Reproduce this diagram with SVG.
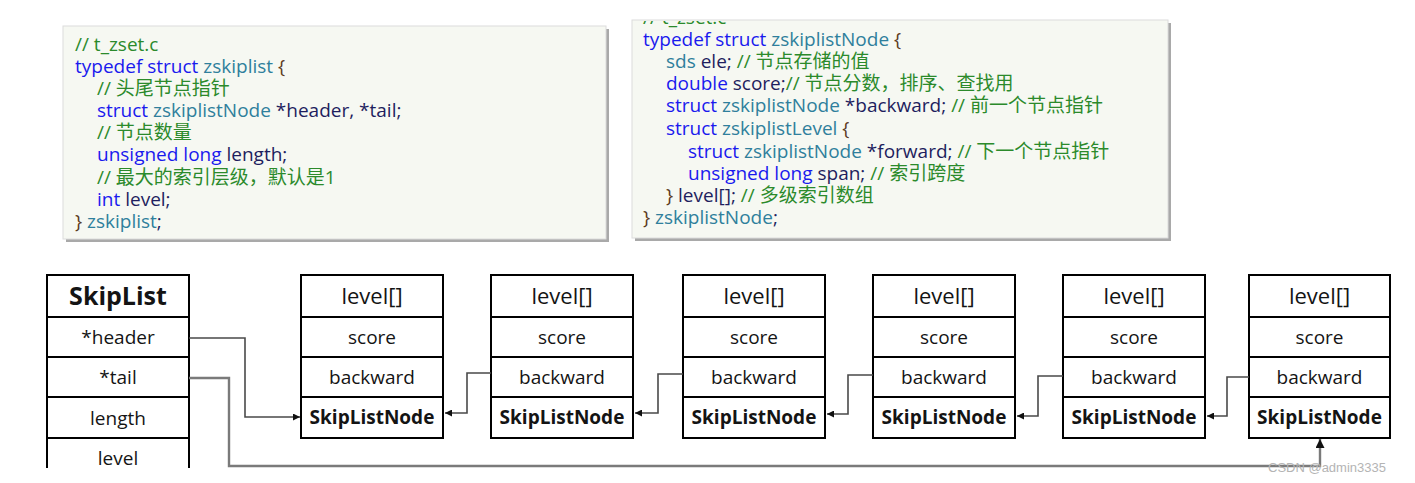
<svg xmlns="http://www.w3.org/2000/svg" width="1415" height="483" viewBox="0 0 1415 483">
<style>
.code{font-family:"Open Sans","Noto Sans CJK SC",sans-serif;font-size:19px;white-space:pre}
.kw{fill:#1a1aee}.ty{fill:#2f7f9c}.id{fill:#1e1e5e}.cm{fill:#2b8a2b}.pn{fill:#5c3b1e}
.panel{fill:#f6f8f2;stroke:#dcdcdc;stroke-width:1}
.shadow{fill:#a9a9a9}
.box{fill:#fff;stroke:#000;stroke-width:2}
.sep{stroke:#000;stroke-width:2}
.t{font-family:"Open Sans","Noto Sans",sans-serif;fill:#141414;text-anchor:middle}
.lv{font-size:22px}.sc{font-size:19px}.bw{font-size:19px}.nm{font-size:19px;font-weight:bold}
.conn{fill:none;stroke:#4a4a4a;stroke-width:1.6}
.tailc{fill:none;stroke:#7a7a7a;stroke-width:2.4}
</style>
<defs>
<marker id="arr" viewBox="0 0 10 10" refX="10" refY="5" markerWidth="7" markerHeight="7" markerUnits="userSpaceOnUse" orient="auto">
<path d="M0,0 L10,5 L0,10 z" fill="#111"/>
</marker>
<marker id="arr2" viewBox="0 0 10 10" refX="10" refY="5" markerWidth="9" markerHeight="9" markerUnits="userSpaceOnUse" orient="auto">
<path d="M0,0 L10,5 L0,10 z" fill="#111"/>
</marker>
<clipPath id="clip2"><rect x="632" y="21" width="540" height="220"/></clipPath>
</defs>
<rect width="1415" height="483" fill="#fff"/>

<g id="panel-zskiplist">
<rect class="shadow" x="66" y="29" width="543" height="213"/>
<rect class="panel" x="63" y="26" width="543" height="213"/>
<text class="code" x="75" y="51"><tspan class="cm">// t_zset.c</tspan></text>
<text class="code" x="75" y="73"><tspan class="kw">typedef struct </tspan><tspan class="ty">zskiplist </tspan><tspan class="pn">{</tspan></text>
<text class="code" x="97" y="95"><tspan class="cm">// 头尾节点指针</tspan></text>
<text class="code" x="97" y="117"><tspan class="kw">struct </tspan><tspan class="ty">zskiplistNode </tspan><tspan class="id">*header, *tail;</tspan></text>
<text class="code" x="97" y="139"><tspan class="cm">// 节点数量</tspan></text>
<text class="code" x="97" y="161"><tspan class="kw">unsigned long </tspan><tspan class="id">length;</tspan></text>
<text class="code" x="97" y="184"><tspan class="cm">// 最大的索引层级，默认是1</tspan></text>
<text class="code" x="97" y="206"><tspan class="kw">int </tspan><tspan class="id">level;</tspan></text>
<text class="code" x="75" y="228"><tspan class="pn">} </tspan><tspan class="ty">zskiplist</tspan><tspan class="id">;</tspan></text>
</g>

<g id="panel-zskiplistNode">
<rect class="shadow" x="635" y="23" width="536" height="218"/>
<rect class="panel" x="632" y="20" width="536" height="218"/>
<text class="code" x="643" y="24" clip-path="url(#clip2)"><tspan class="cm">// t_zset.c</tspan></text>
<text class="code" x="643" y="46"><tspan class="kw">typedef struct </tspan><tspan class="ty">zskiplistNode </tspan><tspan class="pn">{</tspan></text>
<text class="code" x="666" y="68"><tspan class="ty">sds </tspan><tspan class="id">ele; </tspan><tspan class="cm">// 节点存储的值</tspan></text>
<text class="code" x="666" y="90"><tspan class="kw">double </tspan><tspan class="id">score;</tspan><tspan class="cm">// 节点分数，排序、查找用</tspan></text>
<text class="code" x="666" y="112"><tspan class="kw">struct </tspan><tspan class="ty">zskiplistNode </tspan><tspan class="id">*backward; </tspan><tspan class="cm">// 前一个节点指针</tspan></text>
<text class="code" x="666" y="135"><tspan class="kw">struct </tspan><tspan class="ty">zskiplistLevel </tspan><tspan class="pn">{</tspan></text>
<text class="code" x="688" y="158"><tspan class="kw">struct </tspan><tspan class="ty">zskiplistNode </tspan><tspan class="id">*forward; </tspan><tspan class="cm">// 下一个节点指针</tspan></text>
<text class="code" x="688" y="180"><tspan class="kw">unsigned long </tspan><tspan class="id">span; </tspan><tspan class="cm">// 索引跨度</tspan></text>
<text class="code" x="666" y="202"><tspan class="pn">} </tspan><tspan class="id">level[]; </tspan><tspan class="cm">// 多级索引数组</tspan></text>
<text class="code" x="643" y="224"><tspan class="pn">} </tspan><tspan class="ty">zskiplistNode</tspan><tspan class="id">;</tspan></text>
</g>

<g id="skiplist">
<path class="sep" d="M47,468 V275 H189 V468 M47,317 H189 M47,357 H189 M47,397 H189 M47,438 H189" fill="none"/>
<text class="t" x="118" y="305" style="font-size:25px;font-weight:bold">SkipList</text>
<text class="t bw" x="118" y="344">*header</text>
<text class="t bw" x="118" y="384">*tail</text>
<text class="t bw" x="118" y="425">length</text>
<text class="t bw" x="118" y="465">level</text>
</g>

<g id="node1">
<rect class="box" x="301" y="275" width="142" height="163"/>
<path class="sep" d="M301,317 H443 M301,357 H443 M301,397 H443"/>
<text class="t lv" x="372" y="304">level[]</text>
<text class="t sc" x="372" y="344">score</text>
<text class="t bw" x="372" y="384">backward</text>
<text class="t nm" x="372" y="424">SkipListNode</text>
</g>
<g id="node2">
<rect class="box" x="491" y="275" width="142" height="163"/>
<path class="sep" d="M491,317 H633 M491,357 H633 M491,397 H633"/>
<text class="t lv" x="562" y="304">level[]</text>
<text class="t sc" x="562" y="344">score</text>
<text class="t bw" x="562" y="384">backward</text>
<text class="t nm" x="562" y="424">SkipListNode</text>
</g>
<g id="node3">
<rect class="box" x="683" y="275" width="142" height="163"/>
<path class="sep" d="M683,317 H825 M683,357 H825 M683,397 H825"/>
<text class="t lv" x="754" y="304">level[]</text>
<text class="t sc" x="754" y="344">score</text>
<text class="t bw" x="754" y="384">backward</text>
<text class="t nm" x="754" y="424">SkipListNode</text>
</g>
<g id="node4">
<rect class="box" x="873" y="275" width="142" height="163"/>
<path class="sep" d="M873,317 H1015 M873,357 H1015 M873,397 H1015"/>
<text class="t lv" x="944" y="304">level[]</text>
<text class="t sc" x="944" y="344">score</text>
<text class="t bw" x="944" y="384">backward</text>
<text class="t nm" x="944" y="424">SkipListNode</text>
</g>
<g id="node5">
<rect class="box" x="1063" y="275" width="142" height="163"/>
<path class="sep" d="M1063,317 H1205 M1063,357 H1205 M1063,397 H1205"/>
<text class="t lv" x="1134" y="304">level[]</text>
<text class="t sc" x="1134" y="344">score</text>
<text class="t bw" x="1134" y="384">backward</text>
<text class="t nm" x="1134" y="424">SkipListNode</text>
</g>
<g id="node6">
<rect class="box" x="1249" y="275" width="141" height="163"/>
<path class="sep" d="M1249,317 H1390 M1249,357 H1390 M1249,397 H1390"/>
<text class="t lv" x="1319.5" y="304">level[]</text>
<text class="t sc" x="1319.5" y="344">score</text>
<text class="t bw" x="1319.5" y="384">backward</text>
<text class="t nm" x="1319.5" y="424">SkipListNode</text>
</g>

<g id="connectors">
<path class="conn" d="M189,338 H245 V417 H300" marker-end="url(#arr)"/>
<path class="tailc" d="M189,378 H229 V466 H1320 V439" marker-end="url(#arr2)"/>
<path class="conn" d="M491,373 H467 V413 H445" marker-end="url(#arr)"/>
<path class="conn" d="M683,374 H658 V413 H635" marker-end="url(#arr)"/>
<path class="conn" d="M873,375 H848 V414 H827" marker-end="url(#arr)"/>
<path class="conn" d="M1063,376 H1038 V416 H1017" marker-end="url(#arr)"/>
<path class="conn" d="M1249,377 H1227 V416 H1207" marker-end="url(#arr)"/>
</g>

<text x="1268" y="472" style="font-family:'Liberation Sans',sans-serif;font-size:13px;fill:#b4b4b4">CSDN @admin3335</text>
</svg>
